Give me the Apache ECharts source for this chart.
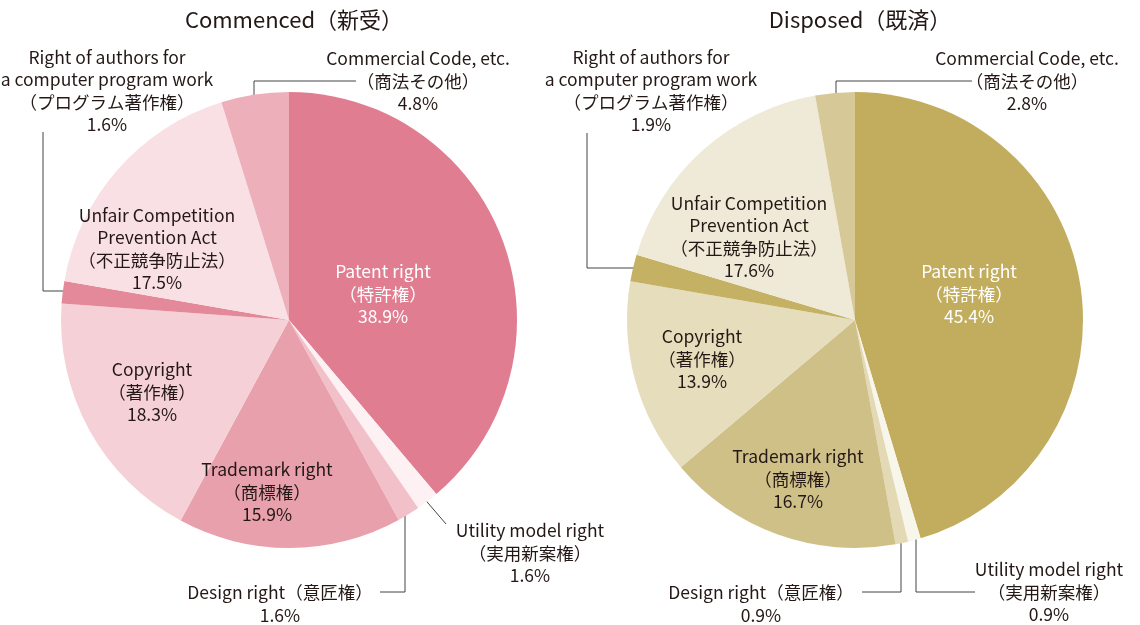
<!DOCTYPE html>
<html>
<head>
<meta charset="utf-8">
<script src="https://cdn.jsdelivr.net/npm/echarts@6/dist/echarts.min.js"></script>
<style>html,body{margin:0;padding:0;background:#fff}#c{width:1140px;height:625px}</style>
</head>
<body>
<div id="c"></div>
<script>
const categories = [
  'Patent right\n（特許権）',
  'Utility model right\n（実用新案権）',
  'Design right（意匠権）',
  'Trademark right\n（商標権）',
  'Copyright\n（著作権）',
  'Right of authors for\na computer program work\n（プログラム著作権）',
  'Unfair Competition\nPrevention Act\n（不正競争防止法）',
  'Commercial Code, etc.\n（商法その他）'
];
const commenced = [38.9, 1.6, 1.6, 15.9, 18.3, 1.6, 17.5, 4.8];
const disposed = [45.4, 0.9, 0.9, 16.7, 13.9, 1.9, 17.6, 2.8];
const titles = ['Commenced（新受）', 'Disposed（既済）'];

const colorsL = ['#E07D91', '#FDF1F3', '#F2C0C8', '#E8A0AC', '#F5D1D7', '#E3899A', '#F9E0E4', '#EDB0BB'];
const colorsR = ['#C2AD5E', '#F8F5EA', '#E3D9B4', '#CFC088', '#E6DDBD', '#C5B164', '#EFE9D7', '#D7C997'];
const outside = [false, true, true, false, false, true, false, true];

// label placement (center of text block) and leader lines
const labelPos = [
  [[383, 294], [530, 553], [280, 604], [267, 492], [152, 392], [107, 91], [157, 249], [418, 81]],
  [[969, 294], [1049, 592], [761, 604], [798, 479], [702, 359], [651, 91], [749, 237], [1027, 81]]
];
const leaders = [
  {1: [[422, 496], [434, 510], [446, 524]], 2: [[405, 503], [405, 592], [380, 592]], 5: [[80, 291], [43, 291], [43, 132]], 7: [[254, 116], [254, 81], [356, 81]]},
  {1: [[916, 533], [916, 592], [975, 592]], 2: [[901, 533], [901, 592], [862, 592]], 5: [[647, 268], [587, 268], [587, 133]], 7: [[836, 112], [836, 81], [972, 81]]}
];

const font = '"Noto Sans CJK JP", "Noto Sans", sans-serif';

function makeSeries(values, colors, center, si) {
  return {
    type: 'pie',
    center: center,
    radius: 228,
    startAngle: 90,
    clockwise: true,
    avoidLabelOverlap: false,
    silent: true,
    emphasis: {disabled: true},
    data: values.map((v, i) => ({
      name: categories[i],
      value: v,
      itemStyle: {color: colors[i]},
      label: {
        position: outside[i] ? 'outside' : 'inside',
        color: i === 0 ? '#ffffff' : '#231815'
      },
      labelLine: {show: outside[i]}
    })),
    label: {
      show: true,
      fontFamily: font,
      fontSize: 17.5,
      lineHeight: 22.5,
      align: 'center',
      formatter: p => p.name + '\n' + p.value.toFixed(1) + '%'
    },
    labelLine: {
      show: true,
      lineStyle: {color: '#444', width: 1}
    },
    labelLayout: function (params) {
      const pos = labelPos[si][params.dataIndex];
      const out = {x: pos[0], y: pos[1], align: 'center', verticalAlign: 'middle'};
      const ld = leaders[si][params.dataIndex];
      if (ld) out.labelLinePoints = ld;
      return out;
    }
  };
}

const chart = echarts.init(document.getElementById('c'));
chart.setOption({
  animation: false,
  title: [
    {text: titles[0], left: 289, top: 4, textAlign: 'center', textStyle: {fontFamily: font, fontSize: 22, fontWeight: 'normal', color: '#231815'}},
    {text: titles[1], left: 855, top: 4, textAlign: 'center', textStyle: {fontFamily: font, fontSize: 22, fontWeight: 'normal', color: '#231815'}}
  ],
  series: [
    makeSeries(commenced, colorsL, [289, 320], 0),
    makeSeries(disposed, colorsR, [855, 320], 1)
  ]
});
</script>
</body>
</html>
